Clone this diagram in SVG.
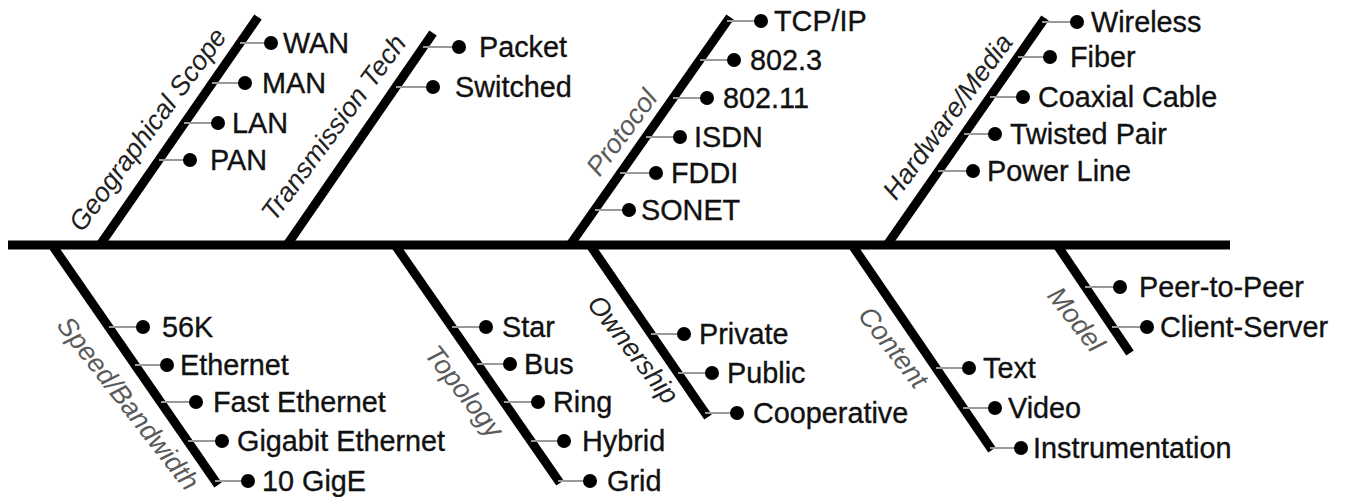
<svg xmlns="http://www.w3.org/2000/svg" width="1348" height="497" viewBox="0 0 1348 497">
<style>
.spine{stroke:#000;stroke-width:9;fill:none}
.bone{stroke:#000;stroke-width:9;stroke-linecap:butt;fill:none}
.tick{stroke:#9a9a9a;stroke-width:2}
.dot{fill:#000}
.item{font-family:"Liberation Sans",Arial,sans-serif;font-size:28.8px;fill:#111;stroke:#111;stroke-width:0.35}
.cat{font-family:"Liberation Sans",Arial,sans-serif;font-size:27px;font-style:italic;text-anchor:middle;fill:#222}
.light{fill:#5a5a5a}
</style>
<rect width="1348" height="497" fill="#fff"/>
<g id="connectors">
<line class="spine" x1="8" y1="245" x2="1230" y2="245"/>
<line class="bone" x1="100" y1="245" x2="258" y2="17"/>
<line class="bone" x1="287" y1="245" x2="433" y2="33"/>
<line class="bone" x1="570" y1="245" x2="730" y2="17"/>
<line class="bone" x1="887" y1="245" x2="1045" y2="18"/>
<line class="bone" x1="52" y1="245" x2="218" y2="485"/>
<line class="bone" x1="395" y1="245" x2="560" y2="483"/>
<line class="bone" x1="590" y1="245" x2="708" y2="417"/>
<line class="bone" x1="852" y1="245" x2="992" y2="450"/>
<line class="bone" x1="1057" y1="245" x2="1130" y2="353"/>
<line class="tick" x1="240" y1="43" x2="271" y2="43"/>
<line class="tick" x1="212" y1="83" x2="245" y2="83"/>
<line class="tick" x1="184" y1="123" x2="218" y2="123"/>
<line class="tick" x1="159" y1="160" x2="190" y2="160"/>
<line class="tick" x1="423" y1="47" x2="459" y2="47"/>
<line class="tick" x1="396" y1="87" x2="433" y2="87"/>
<line class="tick" x1="727" y1="21" x2="761" y2="21"/>
<line class="tick" x1="700" y1="60" x2="734" y2="60"/>
<line class="tick" x1="673" y1="98" x2="707" y2="98"/>
<line class="tick" x1="646" y1="137" x2="680" y2="137"/>
<line class="tick" x1="620" y1="173" x2="656" y2="173"/>
<line class="tick" x1="595" y1="210" x2="629" y2="210"/>
<line class="tick" x1="1042" y1="22" x2="1077" y2="22"/>
<line class="tick" x1="1018" y1="57" x2="1050" y2="57"/>
<line class="tick" x1="990" y1="97" x2="1023" y2="97"/>
<line class="tick" x1="964" y1="134" x2="995" y2="134"/>
<line class="tick" x1="938" y1="171" x2="973" y2="171"/>
<line class="tick" x1="109" y1="327" x2="143" y2="327"/>
<line class="tick" x1="135" y1="365" x2="167" y2="365"/>
<line class="tick" x1="161" y1="402" x2="196" y2="402"/>
<line class="tick" x1="188" y1="441" x2="222" y2="441"/>
<line class="tick" x1="215" y1="481" x2="248" y2="481"/>
<line class="tick" x1="452" y1="327" x2="486" y2="327"/>
<line class="tick" x1="477" y1="364" x2="510" y2="364"/>
<line class="tick" x1="504" y1="402" x2="538" y2="402"/>
<line class="tick" x1="531" y1="441" x2="564" y2="441"/>
<line class="tick" x1="558" y1="481" x2="590" y2="481"/>
<line class="tick" x1="651" y1="334" x2="684" y2="334"/>
<line class="tick" x1="678" y1="373" x2="712" y2="373"/>
<line class="tick" x1="705" y1="413" x2="737" y2="413"/>
<line class="tick" x1="936" y1="368" x2="969" y2="368"/>
<line class="tick" x1="963" y1="408" x2="995" y2="408"/>
<line class="tick" x1="990" y1="448" x2="1021" y2="448"/>
<line class="tick" x1="1085" y1="287" x2="1120" y2="287"/>
<line class="tick" x1="1112" y1="327" x2="1147" y2="327"/>
</g>
<g id="cat-geographical-scope"><text class="cat" transform="translate(155,135) rotate(-53.5)">Geographical Scope</text></g>
<g id="cat-transmission-tech"><text class="cat" transform="translate(341,133) rotate(-53.5)">Transmission Tech</text></g>
<g id="cat-protocol"><text class="cat light" transform="translate(629,138) rotate(-53.5)">Protocol</text></g>
<g id="cat-hardware-media"><text class="cat" transform="translate(955,122) rotate(-53.5)">Hardware/Media</text></g>
<g id="cat-speed-bandwidth"><text class="cat light" transform="translate(121,409) rotate(52)">Speed/Bandwidth</text></g>
<g id="cat-topology"><text class="cat light" transform="translate(457,397) rotate(52)">Topology</text></g>
<g id="cat-ownership"><text class="cat" transform="translate(626,355) rotate(52)">Ownership</text></g>
<g id="cat-content"><text class="cat light" transform="translate(886,353) rotate(52)">Content</text></g>
<g id="cat-model"><text class="cat light" transform="translate(1069,325) rotate(52)">Model</text></g>
<g id="item-wan"><circle class="dot" cx="271" cy="43" r="7"/><text class="item" x="283" y="53">WAN</text></g>
<g id="item-man"><circle class="dot" cx="245" cy="83" r="7"/><text class="item" x="262" y="93">MAN</text></g>
<g id="item-lan"><circle class="dot" cx="218" cy="123" r="7"/><text class="item" x="232" y="133">LAN</text></g>
<g id="item-pan"><circle class="dot" cx="190" cy="160" r="7"/><text class="item" x="210" y="170">PAN</text></g>
<g id="item-packet"><circle class="dot" cx="459" cy="47" r="7"/><text class="item" x="479" y="57">Packet</text></g>
<g id="item-switched"><circle class="dot" cx="433" cy="87" r="7"/><text class="item" x="455" y="97">Switched</text></g>
<g id="item-tcpip"><circle class="dot" cx="761" cy="21" r="7"/><text class="item" x="774" y="31">TCP/IP</text></g>
<g id="item-8023"><circle class="dot" cx="734" cy="60" r="7"/><text class="item" x="750" y="70">802.3</text></g>
<g id="item-80211"><circle class="dot" cx="707" cy="98" r="7"/><text class="item" x="723" y="108">802.11</text></g>
<g id="item-isdn"><circle class="dot" cx="680" cy="137" r="7"/><text class="item" x="694" y="147">ISDN</text></g>
<g id="item-fddi"><circle class="dot" cx="656" cy="173" r="7"/><text class="item" x="671" y="183">FDDI</text></g>
<g id="item-sonet"><circle class="dot" cx="629" cy="210" r="7"/><text class="item" x="641" y="220">SONET</text></g>
<g id="item-wireless"><circle class="dot" cx="1077" cy="22" r="7"/><text class="item" x="1091" y="32">Wireless</text></g>
<g id="item-fiber"><circle class="dot" cx="1050" cy="57" r="7"/><text class="item" x="1070" y="67">Fiber</text></g>
<g id="item-coaxial"><circle class="dot" cx="1023" cy="97" r="7"/><text class="item" x="1038" y="107">Coaxial Cable</text></g>
<g id="item-twisted"><circle class="dot" cx="995" cy="134" r="7"/><text class="item" x="1010" y="144">Twisted Pair</text></g>
<g id="item-power"><circle class="dot" cx="973" cy="171" r="7"/><text class="item" x="987" y="181">Power Line</text></g>
<g id="item-56k"><circle class="dot" cx="143" cy="327" r="7"/><text class="item" x="162" y="337">56K</text></g>
<g id="item-ethernet"><circle class="dot" cx="167" cy="365" r="7"/><text class="item" x="180" y="375">Ethernet</text></g>
<g id="item-fast"><circle class="dot" cx="196" cy="402" r="7"/><text class="item" x="213" y="412">Fast Ethernet</text></g>
<g id="item-gigabit"><circle class="dot" cx="222" cy="441" r="7"/><text class="item" x="237" y="451">Gigabit Ethernet</text></g>
<g id="item-10gige"><circle class="dot" cx="248" cy="481" r="7"/><text class="item" x="262" y="491">10 GigE</text></g>
<g id="item-star"><circle class="dot" cx="486" cy="327" r="7"/><text class="item" x="502" y="337">Star</text></g>
<g id="item-bus"><circle class="dot" cx="510" cy="364" r="7"/><text class="item" x="524" y="374">Bus</text></g>
<g id="item-ring"><circle class="dot" cx="538" cy="402" r="7"/><text class="item" x="553" y="412">Ring</text></g>
<g id="item-hybrid"><circle class="dot" cx="564" cy="441" r="7"/><text class="item" x="582" y="451">Hybrid</text></g>
<g id="item-grid"><circle class="dot" cx="590" cy="481" r="7"/><text class="item" x="607" y="491">Grid</text></g>
<g id="item-private"><circle class="dot" cx="684" cy="334" r="7"/><text class="item" x="699" y="344">Private</text></g>
<g id="item-public"><circle class="dot" cx="712" cy="373" r="7"/><text class="item" x="727" y="383">Public</text></g>
<g id="item-cooperative"><circle class="dot" cx="737" cy="413" r="7"/><text class="item" x="753" y="423">Cooperative</text></g>
<g id="item-text"><circle class="dot" cx="969" cy="368" r="7"/><text class="item" x="983" y="378">Text</text></g>
<g id="item-video"><circle class="dot" cx="995" cy="408" r="7"/><text class="item" x="1008" y="418">Video</text></g>
<g id="item-instrumentation"><circle class="dot" cx="1021" cy="448" r="7"/><text class="item" x="1033" y="458">Instrumentation</text></g>
<g id="item-peer"><circle class="dot" cx="1120" cy="287" r="7"/><text class="item" x="1139" y="297">Peer-to-Peer</text></g>
<g id="item-client"><circle class="dot" cx="1147" cy="327" r="7"/><text class="item" x="1160" y="337">Client-Server</text></g>
</svg>
